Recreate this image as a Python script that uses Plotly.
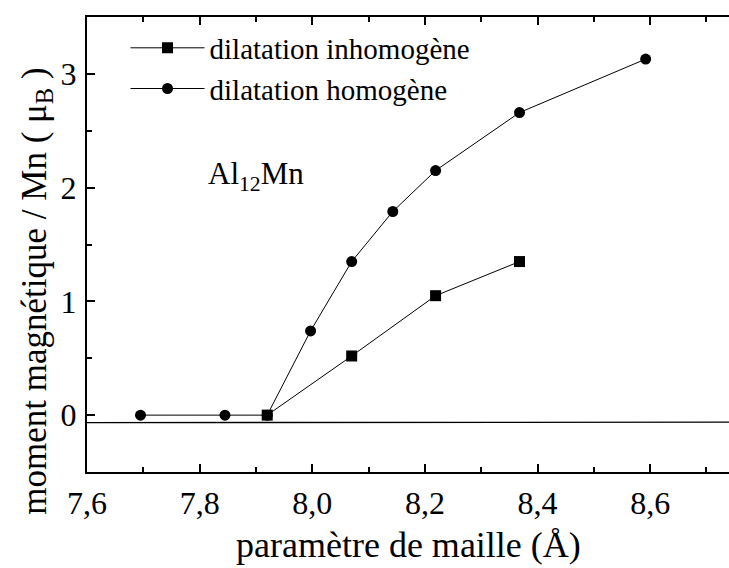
import plotly.graph_objects as go

# Data
x_homo = [7.695, 7.845, 7.92, 7.997, 8.07, 8.143, 8.219, 8.368, 8.592]
y_homo = [0.0, 0.0, 0.0, 0.74, 1.35, 1.79, 2.15, 2.66, 3.13]
x_inhomo = [7.92, 8.07, 8.219, 8.368]
y_inhomo = [0.0, 0.52, 1.05, 1.35]
x_baseline = [7.6, 8.74]
y_baseline = [-0.066, -0.062]

x_ticks = [7.6, 7.8, 8.0, 8.2, 8.4, 8.6]
x_ticktext = ["7,6", "7,8", "8,0", "8,2", "8,4", "8,6"]
y_ticks = [0, 1, 2, 3]

FONT = "Liberation Serif"

fig = go.Figure()

fig.add_trace(go.Scatter(
    x=x_baseline, y=y_baseline, mode="lines",
    line=dict(color="black", width=1.3), showlegend=False, hoverinfo="skip"))

fig.add_trace(go.Scatter(
    x=x_homo, y=y_homo, mode="lines+markers", name="dilatation homogène",
    line=dict(color="black", width=1), legendrank=2,
    marker=dict(symbol="circle", size=11, color="black")))

fig.add_trace(go.Scatter(
    x=x_inhomo, y=y_inhomo, mode="lines+markers", name="dilatation inhomogène",
    line=dict(color="black", width=1), legendrank=1,
    marker=dict(symbol="square", size=11, color="black")))

fig.add_annotation(
    x=7.812, y=2.098, xref="x", yref="y", xanchor="left", yanchor="middle",
    text="Al<sub>12</sub>Mn", showarrow=False,
    font=dict(family=FONT, size=31, color="black"))

# axis titles as annotations (placed like the reference)
fig.add_annotation(
    x=-0.079, y=0.397, xref="paper", yref="paper", xanchor="center", yanchor="middle",
    text="moment magnétique / Mn ( μ<sub>B</sub> )", textangle=-90, showarrow=False,
    font=dict(family=FONT, size=35, color="black"))
fig.add_annotation(
    x=0.5, y=-0.16, xref="paper", yref="paper", xanchor="center", yanchor="middle",
    text="paramètre de maille (Å)", showarrow=False,
    font=dict(family=FONT, size=36, color="black"))

fig.update_layout(
    width=729, height=568,
    margin=dict(l=87, r=0, t=17, b=96),
    paper_bgcolor="white", plot_bgcolor="white",
    font=dict(family=FONT, color="black", size=30),
    separators=",.",
    legend=dict(x=0.06, y=0.988, xanchor="left", yanchor="top",
                bgcolor="rgba(0,0,0,0)", font=dict(family=FONT, size=29, color="black"),
                itemwidth=74, tracegroupgap=0),
    xaxis=dict(
        range=[7.6, 8.74], showgrid=False, zeroline=False, automargin=False,
        showline=True, linecolor="black", linewidth=2, mirror="allticks",
        ticks="inside", ticklen=8, tickwidth=1.5, tickcolor="black",
        tickvals=x_ticks, ticktext=x_ticktext,
        tickfont=dict(family=FONT, size=32, color="black"), ticklabelstandoff=2,
        minor=dict(dtick=0.1, tick0=7.6, ticks="inside", ticklen=5, tickwidth=1.5, tickcolor="black"),
    ),
    yaxis=dict(
        range=[-0.5, 3.5], showgrid=False, zeroline=False, automargin=False,
        showline=True, linecolor="black", linewidth=2, mirror=False,
        ticks="inside", ticklen=8, tickwidth=1.5, tickcolor="black",
        tickvals=y_ticks,
        tickfont=dict(family=FONT, size=32, color="black"), ticklabelstandoff=2,
        minor=dict(dtick=0.5, tick0=0, ticks="inside", ticklen=5, tickwidth=1.5, tickcolor="black"),
    ),
)

fig.write_html("out.html", config={"displayModeBar": False},
               post_script="document.body.style.margin='0';")
